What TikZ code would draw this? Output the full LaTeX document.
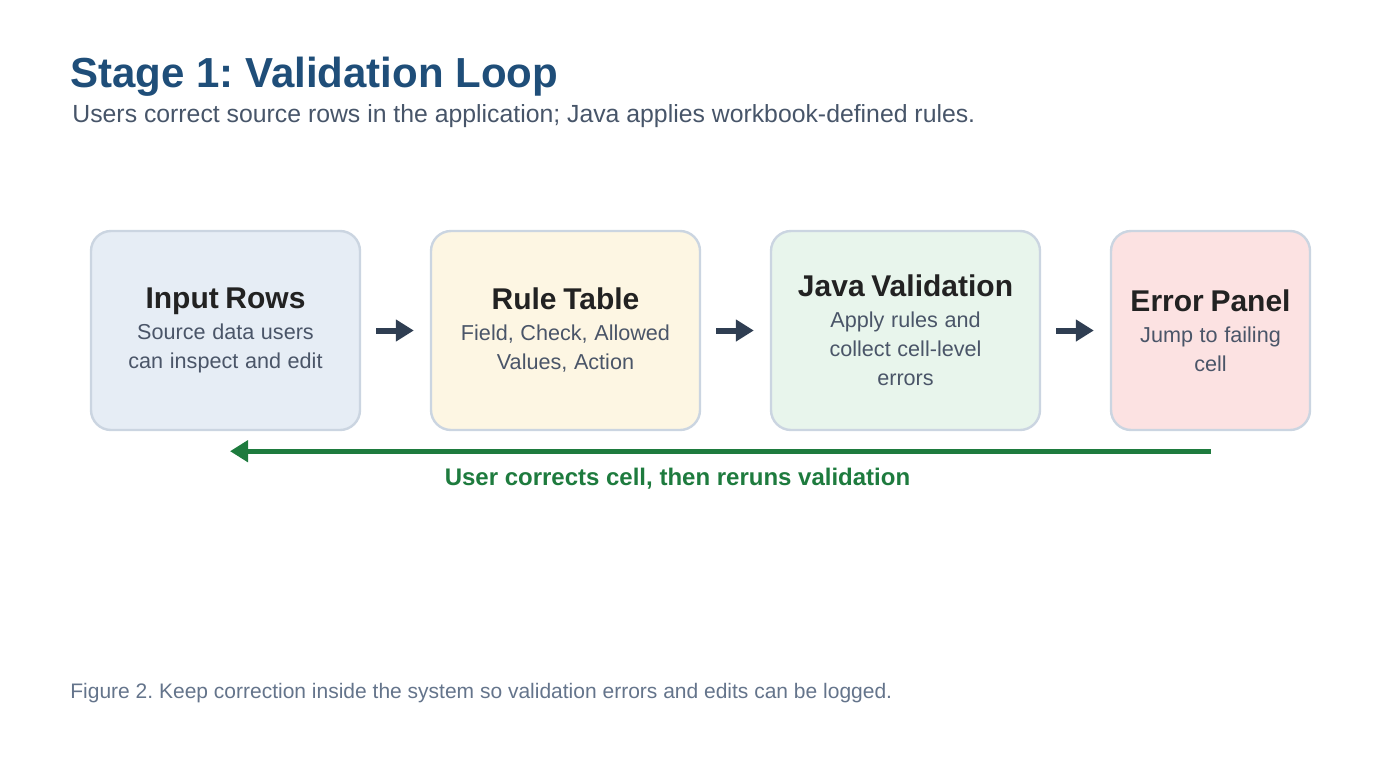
\documentclass[tikz,border=0pt]{standalone}
\usepackage{fontspec}
\setmainfont{Liberation Sans}
\usetikzlibrary{arrows.meta}
\frenchspacing

\definecolor{titleblue}{HTML}{1F4E79}
\definecolor{subgray}{HTML}{475569}
\definecolor{captiongray}{HTML}{64748B}
\definecolor{cardtitle}{HTML}{222222}
\definecolor{cardbody}{HTML}{4A5568}
\definecolor{cardline}{HTML}{CBD5E1}
\definecolor{flowdark}{HTML}{2F3E52}
\definecolor{loopgreen}{HTML}{1E7B3E}
\definecolor{fillblue}{HTML}{E6EDF5}
\definecolor{fillcream}{HTML}{FDF6E3}
\definecolor{fillgreen}{HTML}{E8F5EC}
\definecolor{fillpink}{HTML}{FCE2E2}

\newcommand{\cardtext}[2]{{\fontsize{15}{18}\selectfont\bfseries\color{cardtitle}#1\par}%
  \vspace{1pt}{\fontsize{10.8}{14.5}\selectfont\color{cardbody}#2\par}}

\tikzset{
  card/.style={draw=cardline, line width=1.2pt, rounded corners=10pt,
    minimum height=99.5pt, inner sep=0pt, text width=#1, align=center},
  flow/.style={draw=flowdark, line width=3pt, -{Triangle[length=9pt,width=10.5pt]},
    shorten <=7.5pt, shorten >=8pt},
  back/.style={draw=loopgreen, line width=2.5pt, -{Triangle[length=9pt,width=10.5pt]}},
}

\begin{document}
\begin{tikzpicture}[x=0.5pt,y=-0.5pt]
  \useasboundingbox (0,0) rectangle (1400,760);

  \node (title) [anchor=base west, inner sep=0pt, text=titleblue,
    font=\fontsize{21}{25}\selectfont\bfseries] at (70,87) {Stage 1: Validation Loop};
  \node (subtitle) [anchor=base west, inner sep=0pt, text=subgray,
    font=\fontsize{12.4}{15}\selectfont] at (72,122)
    {Users correct source rows in the application; Java applies workbook-defined rules.};

  \node (inp) [card=134.5pt, fill=fillblue] at (225.5,330.5)
    {\cardtext{Input Rows}{Source data users\\can inspect and edit}};
  \node (rule) [card=134.5pt, fill=fillcream] at (565.5,330.5)
    {\cardtext{Rule Table}{Field, Check, Allowed\\Values, Action}};
  \node (java) [card=134.5pt, fill=fillgreen] at (905.5,330.5)
    {\cardtext{Java Validation}{Apply rules and\\collect cell-level\\errors}};
  \node (err) [card=99.5pt, fill=fillpink] at (1210.5,330.5)
    {\cardtext{Error Panel}{Jump to failing\\cell}};

  \draw [flow] (inp) -- (rule);
  \draw [flow] (rule) -- (java);
  \draw [flow] (java) -- (err);

  % correction loop back to the input rows
  \draw [back] ([yshift=-10pt]err.south) -- ([xshift=2.25pt,yshift=-10pt]inp.south);
  \node (loop) [text=loopgreen, font=\fontsize{12}{14}\selectfont\bfseries]
    at (677.5,479) {User corrects cell, then reruns validation};

  \node (caption) [anchor=base west, inner sep=0pt, text=captiongray,
    font=\fontsize{10.5}{13}\selectfont] at (70,698)
    {Figure 2. Keep correction inside the system so validation errors and edits can be logged.};
\end{tikzpicture}
\end{document}
